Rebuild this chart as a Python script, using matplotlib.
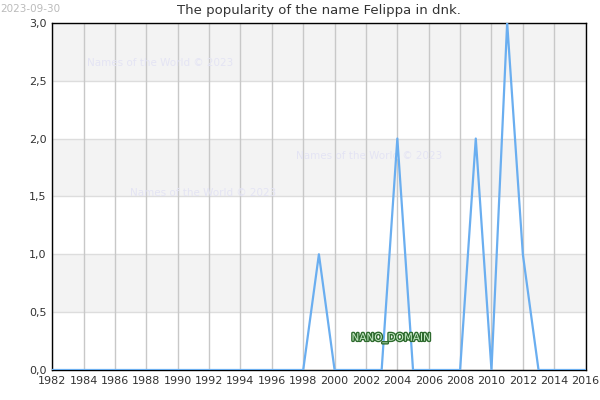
import matplotlib
matplotlib.use("Agg")
import matplotlib.pyplot as plt
import matplotlib.patheffects as pe
from matplotlib.ticker import FuncFormatter

years = list(range(1982, 2017))
values = [0]*17 + [1, 0, 0, 0, 0, 2, 0, 0, 0, 0, 2, 0, 3, 1, 0, 0, 0, 0]
xticks = list(range(1982, 2017, 2))
yticks = [0, 0.5, 1.0, 1.5, 2.0, 2.5, 3.0]

fig = plt.figure(figsize=(6, 4), dpi=100)
ax = fig.add_axes([0.087, 0.075, 0.889, 0.868])

for i in range(6):
    lo, hi = yticks[i], yticks[i + 1]
    if i % 2 == 1:
        ax.axhspan(lo, hi, color="#f3f3f3", zorder=0, lw=0)
for y in yticks:
    ax.axhline(y, color="#dddddd", lw=1, zorder=1)
for x in xticks:
    ax.axvline(x, color="#c8c8c8", lw=1, zorder=1)

ax.plot(years, values, color="#6aaef0", lw=1.6, zorder=3)

ax.set_xlim(1982, 2016)
ax.set_ylim(0, 3)
ax.set_xticks(xticks)
ax.set_yticks(yticks)
ax.yaxis.set_major_formatter(FuncFormatter(lambda v, p: f"{v:.1f}".replace(".", ",")))
ax.tick_params(length=0, labelsize=8, colors="#333333", pad=4)
for s in ax.spines.values():
    s.set_color("black")
    s.set_linewidth(1)

ax.set_title("The popularity of the name Felippa in dnk.", fontsize=9.5, color="#333333", pad=6)

wm_color = "#e4e4f4"
ax.text(1988.9, 2.65, "Names of the World © 2023", fontsize=7.5, color=wm_color, ha="center", va="center", zorder=2)
ax.text(2002.2, 1.85, "Names of the World © 2023", fontsize=7.5, color=wm_color, ha="center", va="center", zorder=2)
ax.text(1991.6, 1.53, "Names of the World © 2023", fontsize=7.5, color=wm_color, ha="center", va="center", zorder=2)

t = ax.text(2003.6, 0.275, "NANO_DOMAIN", fontsize=7.5, color="#c8ecc8", ha="center", va="center", zorder=4)
t.set_path_effects([pe.withStroke(linewidth=2, foreground="#2d6a2d")])

fig.text(0.0, 0.99, "2023-09-30", fontsize=7.5, color="#bbbbbb", ha="left", va="top")

fig.savefig("out.png", dpi=100)
